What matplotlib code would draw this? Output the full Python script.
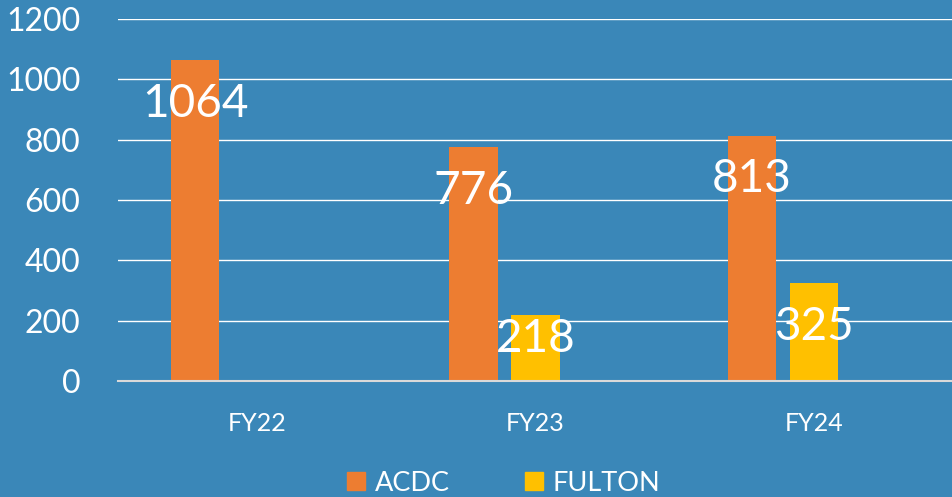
import numpy as np
import matplotlib.pyplot as plt
from matplotlib.lines import Line2D

plt.rcParams["font.family"] = ["Lato", "DejaVu Sans"]

categories = ["FY22", "FY23", "FY24"]
acdc = [1064, 776, 813]
fulton = [0, 218, 325]

bg = "#3A87B8"
c_acdc = "#ED7D31"
c_fulton = "#FFC000"

fig = plt.figure(figsize=(9.53, 4.97), dpi=100, facecolor=bg)
ax = fig.add_axes([118 / 953, 1 - 381 / 497, 1 - 118 / 953, (381 - 19) / 497])
ax.set_facecolor(bg)

x = np.arange(len(categories))
w = 0.173
off = 0.223
ax.bar(x - off, acdc, w, color=c_acdc, zorder=3)
ax.bar(x, fulton, w, color=c_fulton, zorder=3)

ax.set_xlim(-0.5, 2.5)
ax.set_ylim(0, 1200)
ax.set_yticks(range(0, 1201, 200))
ax.set_xticks(x)
ax.set_xticklabels(categories)
ax.grid(axis="y", color="white", linewidth=1, zorder=1)
for s in ["top", "right", "left"]:
    ax.spines[s].set_visible(False)
ax.spines["bottom"].set_color("#D9D9D9")
ax.spines["bottom"].set_linewidth(1.5)
ax.spines["bottom"].set_zorder(4)
ax.tick_params(axis="y", length=0, pad=27, labelsize=23, labelcolor="white")
ax.tick_params(axis="x", length=0, pad=22, labelsize=18, labelcolor="white")

# data labels (Excel-style, inside end)
for xs, vals in [(x - off, acdc), (x, fulton)]:
    for xi, v in zip(xs, vals):
        if v == 0:
            continue
        y = max(v - 145, 140)
        ax.text(xi, y, str(v), ha="center", va="center", color="white",
                fontsize=33, zorder=5)

handles = [
    Line2D([], [], marker="s", linestyle="none", markersize=13, color=c_acdc),
    Line2D([], [], marker="s", linestyle="none", markersize=13, color=c_fulton),
]
leg = fig.legend(handles, ["ACDC", "FULTON"], loc="center", ncol=2,
                 bbox_to_anchor=(0.526, 0.028), frameon=False, fontsize=19.5,
                 labelcolor="white", handletextpad=0.2, columnspacing=2.6,
                 handlelength=1.0)

fig.savefig("out.png", dpi=100, facecolor=bg)
